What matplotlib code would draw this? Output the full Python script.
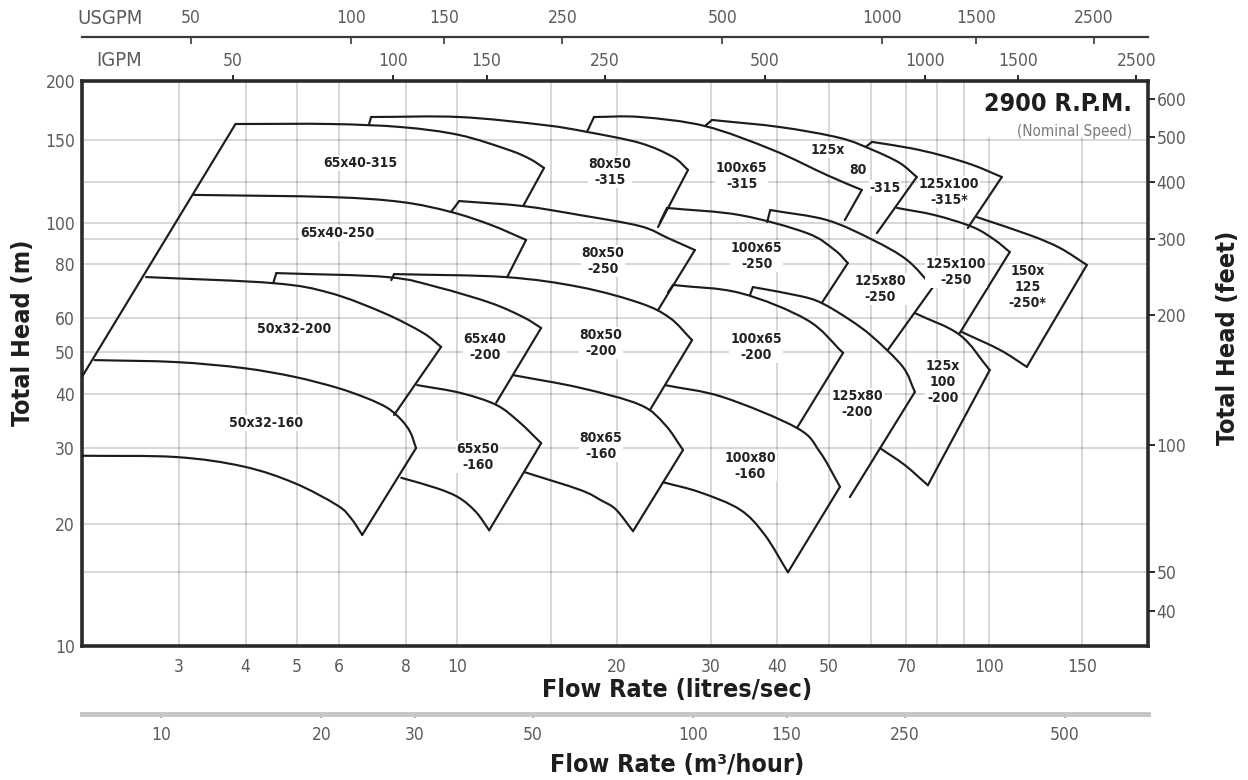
import os
import numpy as np
import matplotlib
matplotlib.use("Agg")
import matplotlib.pyplot as plt
from matplotlib import font_manager
from matplotlib.patches import Rectangle, PathPatch
from matplotlib.path import Path
from matplotlib.ticker import FixedLocator, NullLocator, FuncFormatter

# ---------------- unit conversions (flow in litres/sec, head in metres) ----------------
LPS_TO_IGPM = 13.198
LPS_TO_USGPM = 15.850
LPS_TO_M3H = 3.6
M_TO_FT = 1 / 0.3048

# ---------------- axis ticks and reference grid ----------------
flow_ticks = [3, 4, 5, 6, 8, 10, 20, 30, 40, 50, 70, 100, 150, 200]
flow_grid = [3, 4, 5, 6, 8, 10, 15, 20, 30, 40, 50, 60, 70, 80, 90, 100, 150]
head_ticks = [10, 20, 30, 40, 50, 60, 80, 100, 150, 200]
head_grid = [20, 30, 40, 50, 60, 80, 100, 150]
feet_ticks = [40, 50, 100, 200, 300, 400, 500, 600]
feet_grid = [50, 300, 400]
igpm_ticks = [50, 100, 150, 250, 500, 1000, 1500, 2500]
usgpm_ticks = [50, 100, 150, 250, 500, 1000, 1500, 2500]
m3h_ticks = [10, 20, 30, 50, 100, 150, 250, 500]

# ---------------- pump coverage outlines: (flow l/s, head m) ----------------
# "top"/"bottom" are impeller head curves, "end" is the run-out edge,
# "step" is the short riser where a larger pump's envelope begins.
left_edge = [(3.83, 162.1), (1.97, 43.9)]

# 315 impeller range
p65x40_315_top = [(3.83, 162.1), (5.77, 162.1), (7.85, 159.7), (10.09, 153.7), (12.52, 142.8), (13.72, 136.6), (14.57, 130.8)]
p65x40_315_end = [(14.57, 130.8), (13.31, 108.5)]
p80x50_315_step = [(6.83, 162.1), (6.89, 167.7)]
p80x50_315_top = [(6.89, 167.7), (10.09, 167.7), (14.57, 161.3), (17.55, 156.0), (22.08, 147.8), (25.47, 138.0), (27.18, 129.5)]
p80x50_315_end = [(27.18, 129.5), (23.87, 97.7)]
p100x65_315_step = [(17.55, 156.0), (18.09, 167.7)]
p100x65_315_top = [(18.09, 167.7), (22.08, 167.7), (29.25, 160.5), (39.26, 142.8), (49.6, 126.3), (57.7, 117.4)]
p100x65_315_end = [(57.7, 117.4), (53.6, 101.3)]
p125x80_315_step = [(29.25, 160.5), (30.16, 165.3)]
p125x80_315_top = [(30.16, 165.3), (40.5, 159.7), (52.5, 151.5), (60.5, 142.8), (68.0, 134.0), (73.2, 125.1)]
p125x80_315_end = [(73.2, 125.1), (61.6, 94.6)]
p125x100_315_step = [(58.7, 145.0), (60.3, 148.6)]
p125x100_315_top = [(60.3, 148.6), (71.0, 144.2), (80.9, 139.4), (93.3, 132.7), (105.8, 125.1)]
p125x100_315_end = [(105.8, 125.1), (91.3, 97.2)]

# 250 impeller range
p65x40_250_top = [(3.20, 114.6), (5.77, 113.4), (7.85, 110.7), (9.74, 105.4), (11.58, 98.8), (13.48, 91.2)]
p65x40_250_end = [(13.48, 91.2), (12.42, 74.8)]
p80x50_250_step = [(9.74, 105.4), (10.09, 111.2)]
p80x50_250_top = [(10.09, 111.2), (13.31, 108.5), (17.03, 103.8), (22.08, 98.2), (24.93, 92.1), (28.0, 86.4)]
p80x50_250_end = [(28.0, 86.4), (23.87, 62.7)]
p100x65_250_step = [(24.08, 100.3), (24.81, 107.5)]
p100x65_250_top = [(24.81, 107.5), (34.04, 103.8), (45.5, 94.6), (51.3, 86.4), (54.3, 80.6)]
p100x65_250_end = [(54.3, 80.6), (48.5, 65.1)]
p125x80_250_step = [(38.3, 100.3), (38.8, 106.4)]
p125x80_250_top = [(38.8, 106.4), (49.6, 101.3), (60.5, 91.2), (70.2, 81.9), (78.5, 70.9)]
p125x80_250_end = [(78.5, 70.9), (64.6, 50.7)]
p125x100_250_top = [(67.2, 107.5), (79.1, 103.8), (93.3, 97.7), (102.6, 91.2), (109.5, 85.5)]
p125x100_250_end = [(109.5, 85.5), (88.2, 55.5)]
p150x125_250_top = [(94.9, 102.8), (119.4, 93.6), (136.0, 87.4), (152.9, 79.8)]
p150x125_250_end = [(152.9, 79.8), (117.9, 46.3)]
p150x125_250_bottom = [(88.9, 55.8), (104.9, 50.7), (117.9, 46.3)]

# 200 impeller range
p50x32_200_top = [(2.60, 74.8), (4.51, 72.4), (5.77, 68.7), (7.29, 61.7), (8.63, 55.5), (9.33, 51.5)]
p50x32_200_end = [(9.33, 51.5), (7.61, 35.8)]
p65x40_200_step = [(4.51, 72.4), (4.57, 76.4)]
p65x40_200_top = [(4.57, 76.4), (7.39, 74.8), (9.17, 70.9), (11.58, 65.1), (13.31, 60.4), (14.39, 57.0)]
p65x40_200_end = [(14.39, 57.0), (11.84, 38.2)]
p80x50_200_step = [(7.52, 73.6), (7.61, 76.0)]
p80x50_200_top = [(7.61, 76.0), (12.31, 74.8), (17.03, 70.9), (22.08, 65.1), (25.14, 60.1), (27.66, 53.4)]
p80x50_200_end = [(27.66, 53.4), (23.06, 36.8)]
p100x65_200_step = [(24.93, 69.0), (25.47, 71.7)]
p100x65_200_top = [(25.47, 71.7), (34.04, 68.7), (45.5, 59.5), (53.2, 49.9)]
p100x65_200_end = [(53.2, 49.9), (43.57, 33.4)]
p125x80_200_step = [(35.55, 67.9), (36.0, 70.9)]
p125x80_200_top = [(36.0, 70.9), (44.14, 67.6), (48.5, 65.1), (54.8, 59.5), (60.5, 54.3), (68.9, 46.3), (72.6, 40.5)]
p125x80_200_end = [(72.6, 40.5), (54.8, 23.1)]
p125x100_200_top = [(72.6, 61.7), (88.2, 54.9), (100.4, 45.5)]
p125x100_200_end = [(100.4, 45.5), (76.8, 24.6)]
p125x100_200_bottom = [(62.4, 30.0), (69.5, 27.4), (76.8, 24.6)]

# 160 impeller range
p50x32_160_top = [(2.08, 48.0), (2.96, 47.5), (3.96, 46.0), (4.94, 43.9), (5.95, 41.4), (6.75, 39.2), (7.39, 37.2), (7.85, 34.9), (8.16, 32.7), (8.37, 30.0)]
p50x32_160_end = [(8.37, 30.0), (6.63, 18.8)]
p50x32_160_bottom = [(1.97, 28.8), (2.96, 28.6), (3.96, 27.2), (4.94, 24.9), (5.95, 22.1), (6.32, 20.6), (6.63, 18.8)]
p65x50_160_top = [(8.41, 42.0), (10.13, 40.3), (11.84, 37.8), (13.08, 34.5), (14.39, 30.8)]
p65x50_160_end = [(14.39, 30.8), (11.49, 19.3)]
p65x50_160_bottom = [(7.85, 25.6), (9.17, 24.2), (10.09, 23.0), (10.86, 21.3), (11.49, 19.3)]
p80x65_160_top = [(12.74, 44.3), (17.03, 41.4), (22.08, 37.8), (24.6, 34.0), (26.6, 29.7)]
p80x65_160_end = [(26.6, 29.7), (21.42, 19.2)]
p80x65_160_bottom = [(13.37, 26.4), (17.03, 24.0), (18.65, 22.7), (19.9, 21.6), (21.42, 19.2)]
p100x80_160_top = [(24.6, 42.0), (31.6, 39.4), (43.57, 33.4), (48.1, 29.4), (52.5, 24.4)]
p100x80_160_end = [(52.5, 24.4), (41.9, 15.2)]
p100x80_160_bottom = [(24.4, 25.0), (28.6, 23.7), (34.04, 21.6), (37.9, 18.8), (41.9, 15.2)]

head_curves = [
    p65x40_315_top, p80x50_315_top, p100x65_315_top, p125x80_315_top, p125x100_315_top,
    p65x40_250_top, p80x50_250_top, p100x65_250_top, p125x80_250_top, p125x100_250_top,
    p150x125_250_top, p150x125_250_bottom,
    p50x32_200_top, p65x40_200_top, p80x50_200_top, p100x65_200_top, p125x80_200_top,
    p125x100_200_top, p125x100_200_bottom,
    p50x32_160_top, p50x32_160_bottom, p65x50_160_top, p65x50_160_bottom,
    p80x65_160_top, p80x65_160_bottom, p100x80_160_top, p100x80_160_bottom,
]
straight_edges = [
    left_edge,
    p65x40_315_end, p80x50_315_step, p80x50_315_end, p100x65_315_step, p100x65_315_end,
    p125x80_315_step, p125x80_315_end, p125x100_315_step, p125x100_315_end,
    p65x40_250_end, p80x50_250_step, p80x50_250_end, p100x65_250_step, p100x65_250_end,
    p125x80_250_step, p125x80_250_end, p125x100_250_end, p150x125_250_end,
    p50x32_200_end, p65x40_200_step, p65x40_200_end, p80x50_200_step, p80x50_200_end,
    p100x65_200_step, p100x65_200_end, p125x80_200_step, p125x80_200_end, p125x100_200_end,
    p50x32_160_end, p65x50_160_end, p80x65_160_end, p100x80_160_end,
]

# pump size labels: (text, flow l/s, head m)
pump_labels = [
    ("65x40-315", 6.57, 134.0),
    ("80x50\n-315", 19.4, 128.2),
    ("100x65\n-315", 34.3, 125.7),
    ("125x", 49.8, 142.8), ("80", 56.7, 129.5), ("-315", 63.8, 118.5),
    ("125x100\n-315*", 84.1, 116.3),
    ("65x40-250", 5.95, 94.6),
    ("80x50\n-250", 18.8, 81.5),
    ("100x65\n-250", 36.6, 83.7),
    ("125x80\n-250", 62.4, 70.2),
    ("125x100\n-250", 86.7, 76.8),
    ("150x\n125\n-250*", 118.4, 70.9),
    ("50x32-200", 4.94, 56.7),
    ("65x40\n-200", 11.29, 51.5),
    ("80x50\n-200", 18.65, 52.6),
    ("100x65\n-200", 36.5, 51.5),
    ("125x80\n-200", 56.5, 38.0),
    ("125x\n100\n-200", 81.9, 42.7),
    ("50x32-160", 4.38, 34.3),
    ("65x50\n-160", 10.95, 28.6),
    ("80x65\n-160", 18.65, 30.3),
    ("100x80\n-160", 35.6, 27.3),
]

# ---------------- fonts ----------------
def pick_font(candidates):
    by_file = {os.path.basename(f.fname): f.fname for f in font_manager.fontManager.ttflist}
    for c in candidates:
        if c in by_file:
            return by_file[c]
    return None

BOLD_FILE = pick_font(["DejaVuSansCondensed-Bold.ttf", "LiberationSansNarrow-Bold.ttf",
                       "NotoSans-CondensedBold.ttf", "OpenSans-CondBold.ttf",
                       "Roboto-Bold.ttf", "DejaVuSans-Bold.ttf"])
REG_FILE = pick_font(["DejaVuSansCondensed.ttf", "LiberationSansNarrow-Regular.ttf",
                      "NotoSans-Condensed.ttf", "OpenSans-CondLight.ttf",
                      "Roboto-Regular.ttf", "DejaVuSans.ttf"])


def font(kind, size):
    fname = BOLD_FILE if kind == "bold" else REG_FILE
    if fname:
        return font_manager.FontProperties(fname=fname, size=size)
    return font_manager.FontProperties(family="DejaVu Sans",
                                       weight="bold" if kind == "bold" else "normal", size=size)


# ---------------- head axis calibration (log spacing of the printed grid) ----------------
HEAD_CAL_M = np.array([1.0, 10.0, 20.0, 100.0, 150.0, 200.0, 1000.0])
HEAD_CAL_U = np.array([-405.3, 0.0, 122.0, 423.3, 506.0, 565.3, 897.0])
LOG_CAL = np.log10(HEAD_CAL_M)


def head_fwd(h):
    h = np.clip(np.asarray(h, dtype=float), 1e-3, None)
    return np.interp(np.log10(h), LOG_CAL, HEAD_CAL_U)


def head_inv(u):
    return 10 ** np.interp(np.asarray(u, dtype=float), HEAD_CAL_U, LOG_CAL)


def feet_fwd(f):
    return head_fwd(np.asarray(f, dtype=float) / M_TO_FT)


def feet_inv(u):
    return head_inv(u) * M_TO_FT


def smooth_curve(points):
    """Cubic Bezier path through the given points (Catmull-Rom tangents), built in
    the chart's scaled space so the curve bends evenly on the log axes."""
    P = np.column_stack([np.log10([p[0] for p in points]), head_fwd([p[1] for p in points])])
    ext = np.vstack([2 * P[0] - P[1], P, 2 * P[-1] - P[-2]])
    verts = [P[0]]
    codes = [Path.MOVETO]
    for i in range(len(P) - 1):
        p0, p1, p2, p3 = ext[i], ext[i + 1], ext[i + 2], ext[i + 3]
        verts += [p1 + (p2 - p0) / 6.0, p2 - (p3 - p1) / 6.0, p2]
        codes += [Path.CURVE4] * 3
    V = np.array(verts)
    data = np.column_stack([10 ** V[:, 0], head_inv(V[:, 1])])
    return Path(data, codes)


# ---------------- figure ----------------
W, H = 1248, 780
fig = plt.figure(figsize=(W / 100, H / 100), dpi=100, facecolor="white")
L, R, T, B = 82, 1147.7, 80.7, 646
ax = fig.add_axes([L / W, 1 - B / H, (R - L) / W, (B - T) / H])
ax.set_facecolor("white")

ax.set_xscale("log")
ax.set_xlim(1.97, 199)
ax.set_yscale("function", functions=(head_fwd, head_inv))
ax.set_ylim(10, 200)

INK = "#1c1c1c"
GREY_TXT = "#5c5c5c"
SPINE = "#2a2a2a"

for s in ax.spines.values():
    s.set_linewidth(2.6)
    s.set_color(SPINE)

fmt = FuncFormatter(lambda v, p: f"{v:g}")

ax.xaxis.set_major_locator(FixedLocator(flow_ticks))
ax.xaxis.set_minor_locator(NullLocator())
ax.xaxis.set_major_formatter(fmt)
ax.yaxis.set_major_locator(FixedLocator(head_ticks))
ax.yaxis.set_minor_locator(NullLocator())
ax.yaxis.set_major_formatter(fmt)
ax.tick_params(axis="x", length=0, pad=9, colors=GREY_TXT)
ax.tick_params(axis="y", length=0, pad=5, colors=GREY_TXT)
for lab in ax.get_xticklabels() + ax.get_yticklabels():
    lab.set_fontproperties(font("reg", 12.5))

# reference grid
GRID = dict(color="black", alpha=0.17, lw=1.3, zorder=1)
for q in flow_grid:
    ax.axvline(q, **GRID)
for hm in head_grid:
    ax.axhline(hm, **GRID)
for hf in feet_grid:
    ax.axhline(hf / M_TO_FT, **GRID)

# pump coverage outlines
LW = 1.55
LINE = dict(edgecolor=INK, facecolor="none", lw=LW, capstyle="round", joinstyle="round", zorder=4)
for curve in head_curves:
    ax.add_patch(PathPatch(smooth_curve(curve), **LINE))
for edge in straight_edges:
    q, hd = zip(*edge)
    ax.plot(q, hd, color=INK, lw=LW, solid_capstyle="round", zorder=4)

for text, q, hd in pump_labels:
    ax.text(q, hd, text, ha="center", va="center", fontproperties=font("bold", 10),
            color="#222222", linespacing=1.15, zorder=6,
            bbox=dict(facecolor="white", edgecolor="none", pad=0.6))

# speed note
ax.add_patch(Rectangle((0.842, 0.9), 0.158, 0.1, transform=ax.transAxes,
                       facecolor="white", edgecolor="none", zorder=2))
ax.text(0.985, 0.958, "2900 R.P.M.", transform=ax.transAxes, ha="right", va="center",
        fontproperties=font("bold", 18), color="#1e1e1e", zorder=6)
ax.text(0.985, 0.911, "(Nominal Speed)", transform=ax.transAxes, ha="right", va="center",
        fontproperties=font("reg", 11), color="#7a7a7a", zorder=6)

# right axis: head in feet
ax_ft = ax.twinx()
ax_ft.set_yscale("function", functions=(feet_fwd, feet_inv))
ax_ft.set_ylim(10 * M_TO_FT, 200 * M_TO_FT)
ax_ft.yaxis.set_major_locator(FixedLocator(feet_ticks))
ax_ft.yaxis.set_minor_locator(NullLocator())
ax_ft.yaxis.set_major_formatter(fmt)
ax_ft.tick_params(axis="y", direction="out", length=5, width=1.4, color=SPINE,
                  pad=1.5, labelcolor=GREY_TXT)
for s in ax_ft.spines.values():
    s.set_visible(False)
for lab in ax_ft.get_yticklabels():
    lab.set_fontproperties(font("reg", 12.5))

# top axis: imperial gallons per minute (on the frame)
ax_ig = ax.secondary_xaxis("top", functions=(lambda q: np.asarray(q) * LPS_TO_IGPM,
                                             lambda g: np.asarray(g) / LPS_TO_IGPM))
ax_ig.xaxis.set_major_locator(FixedLocator(igpm_ticks))
ax_ig.xaxis.set_minor_locator(NullLocator())
ax_ig.xaxis.set_major_formatter(fmt)
ax_ig.tick_params(axis="x", direction="out", length=4, width=1.4, color=SPINE,
                  pad=4, labelcolor=GREY_TXT)
for s in ax_ig.spines.values():
    s.set_visible(False)
for lab in ax_ig.get_xticklabels():
    lab.set_fontproperties(font("reg", 12.5))

# upper axis: US gallons per minute
ax_us = ax.secondary_xaxis((B - 37) / (B - T),
                           functions=(lambda q: np.asarray(q) * LPS_TO_USGPM,
                                      lambda g: np.asarray(g) / LPS_TO_USGPM))
ax_us.xaxis.set_major_locator(FixedLocator(usgpm_ticks))
ax_us.xaxis.set_minor_locator(NullLocator())
ax_us.xaxis.set_major_formatter(fmt)
ax_us.tick_params(axis="x", direction="in", length=5, width=1.2, color="#3a3a3a",
                  pad=7, labelcolor=GREY_TXT)
for s in ax_us.spines.values():
    s.set_linewidth(1.6)
    s.set_color("#3a3a3a")
for lab in ax_us.get_xticklabels():
    lab.set_fontproperties(font("reg", 12.5))

# lower axis: cubic metres per hour
ax_m3 = ax.secondary_xaxis(-(714 - B) / (B - T),
                           functions=(lambda q: np.asarray(q) * LPS_TO_M3H,
                                      lambda m: np.asarray(m) / LPS_TO_M3H))
ax_m3.xaxis.set_major_locator(FixedLocator(m3h_ticks))
ax_m3.xaxis.set_minor_locator(NullLocator())
ax_m3.xaxis.set_major_formatter(fmt)
ax_m3.tick_params(axis="x", direction="out", length=3, width=1.2, color="#9a9a9a",
                  pad=6, labelcolor=GREY_TXT)
for s in ax_m3.spines.values():
    s.set_linewidth(3.5)
    s.set_color("#c6c6c6")
for lab in ax_m3.get_xticklabels():
    lab.set_fontproperties(font("reg", 12.5))

# axis titles and unit captions
fig.text(77 / W, 1 - 18 / H, "USGPM", ha="left", va="center",
         fontproperties=font("reg", 14.5), color=GREY_TXT)
fig.text(96 / W, 1 - 60 / H, "IGPM", ha="left", va="center",
         fontproperties=font("reg", 14.5), color=GREY_TXT)
fig.text(677 / W, 1 - 690 / H, "Flow Rate (litres/sec)", ha="center", va="center",
         fontproperties=font("bold", 18), color="#1e1e1e")
fig.text(677 / W, 1 - 765 / H, "Flow Rate (m\u00b3/hour)", ha="center", va="center",
         fontproperties=font("bold", 18), color="#1e1e1e")
fig.text(23 / W, 1 - 333 / H, "Total Head (m)", ha="center", va="center", rotation=90,
         fontproperties=font("bold", 18), color="#1e1e1e")
fig.text(1228 / W, 1 - 338 / H, "Total Head (feet)", ha="center", va="center", rotation=90,
         fontproperties=font("bold", 18), color="#1e1e1e")

fig.savefig("out.png", dpi=100, facecolor="white")
